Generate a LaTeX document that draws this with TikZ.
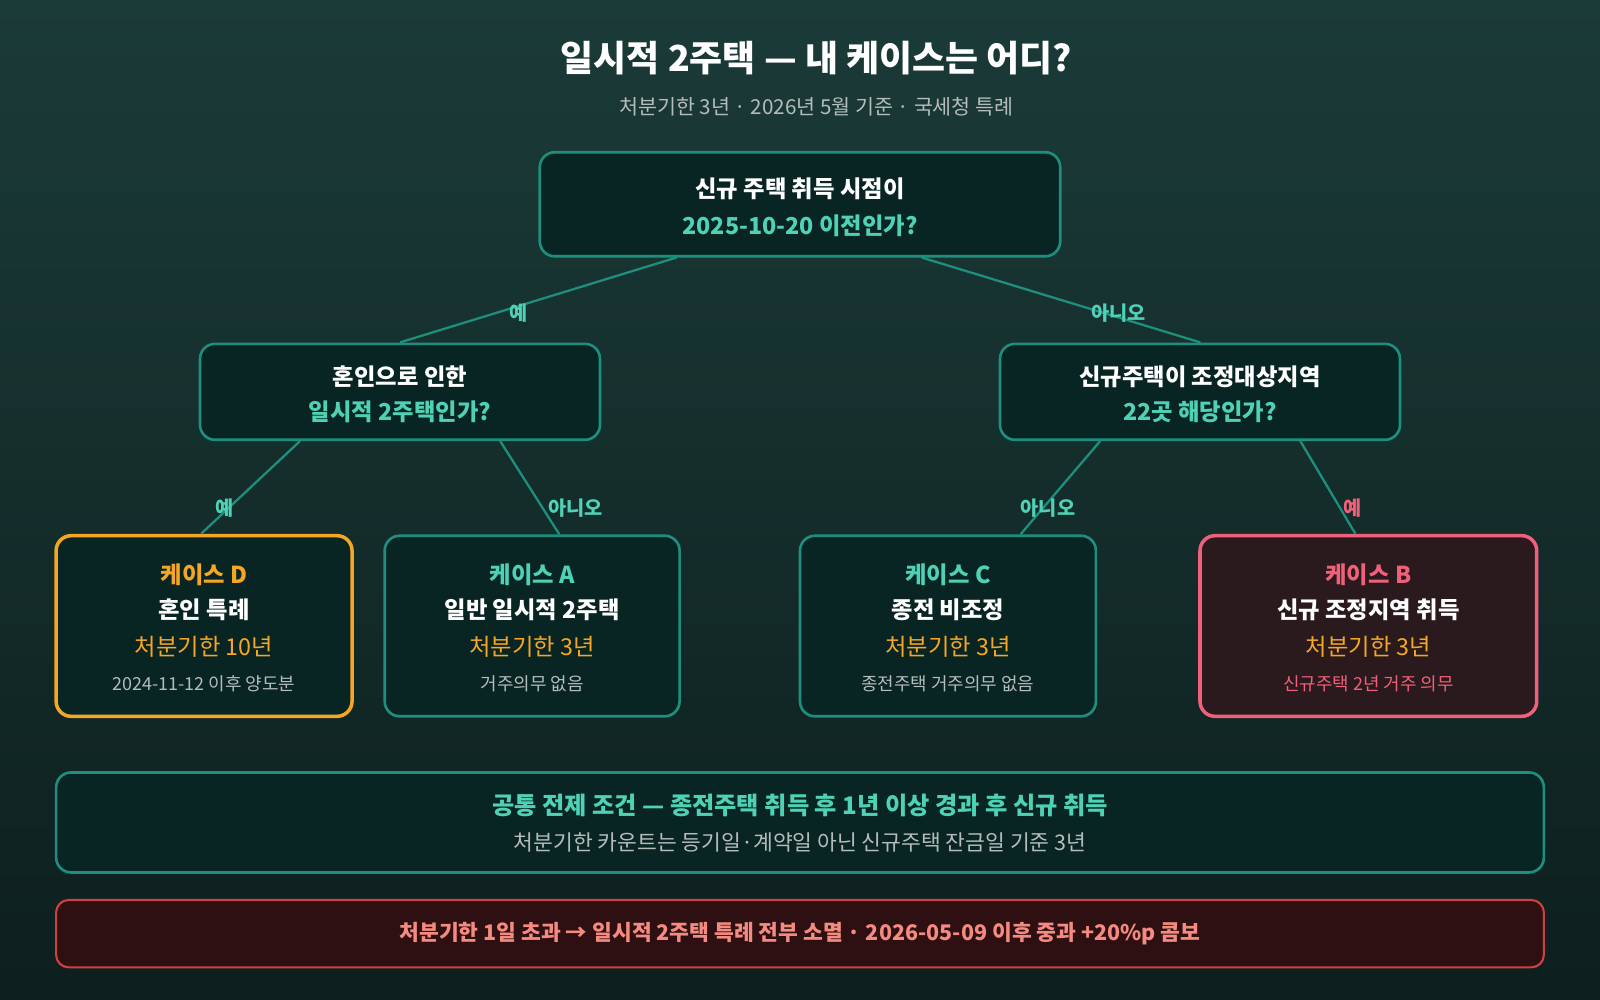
\documentclass[tikz,border=0pt]{standalone}
\usepackage{fontspec}
\setmainfont{Noto Sans CJK KR}
\usetikzlibrary{positioning,calc}
\definecolor{bgtop}{HTML}{1B3B38}
\definecolor{bgbot}{HTML}{0D1F1E}
\definecolor{teal}{HTML}{1E8F7E}
\definecolor{tealtxt}{HTML}{4FD1B5}
\definecolor{boxfill}{HTML}{082523}
\definecolor{orng}{HTML}{F5A623}
\definecolor{pink}{HTML}{F0607A}
\definecolor{pinkfill}{HTML}{2A1A1E}
\definecolor{greytxt}{HTML}{B5BDBB}
\definecolor{warnfill}{HTML}{2E1012}
\definecolor{warnline}{HTML}{D04040}
\definecolor{warntxt}{HTML}{F48A80}
\tikzset{
  box/.style={draw=teal,line width=1.5pt,rounded corners=0.3cm,fill=boxfill},
  conn/.style={draw=teal,line width=1.3pt},
  lbl/.style={font=\fontsize{11}{13}\selectfont\bfseries,text=tealtxt},
  main/.style={font=\fontsize{13}{15}\selectfont\bfseries,text=white},
  sub/.style={font=\fontsize{13}{15}\selectfont\bfseries,text=tealtxt},
  dead/.style={font=\fontsize{13}{15}\selectfont,text=orng},
  note/.style={font=\fontsize{10}{12}\selectfont,text=greytxt},
}
\begin{document}
\begin{tikzpicture}
\shade[top color=bgtop,bottom color=bgbot] (0,0) rectangle (32,20);
\useasboundingbox (0,0) rectangle (32,20);
\begin{scope}[shift={(0,20)},scale=1.0204,transform shape,shift={(0,-20)}]

% title
\node[font=\fontsize{20}{24}\selectfont\bfseries,text=white] (title) at (16,18.86) {일시적 2주택 — 내 케이스는 어디?};
\node[font=\fontsize{11.5}{14}\selectfont,text=greytxt] (subtitle) at (16,17.9) {처분기한 3년 · 2026년 5월 기준 · 국세청 특례};

% decision nodes
\node[box,minimum width=10.2cm,minimum height=2.04cm] (root) at (15.68,15.996) {};
\node[main] (root1) at (15.68,16.3) {신규 주택 취득 시점이};
\node[sub] (root2) at (15.68,15.58) {2025-10-20 이전인가?};

\node[box,minimum width=7.84cm,minimum height=1.88cm] (marr) at (7.84,12.32) {};
\node[main] (marr1) at (7.84,12.62) {혼인으로 인한};
\node[sub] (marr2) at (7.84,11.92) {일시적 2주택인가?};

\node[box,minimum width=7.84cm,minimum height=1.88cm] (adj) at (23.52,12.32) {};
\node[main] (adj1) at (23.52,12.62) {신규주택이 조정대상지역};
\node[sub] (adj2) at (23.52,11.92) {22곳 해당인가?};

% cases
\node[box,draw=orng,line width=2pt,minimum width=5.8cm,minimum height=3.54cm] (caseD) at (4,7.73) {};
\node[main,text=orng] at (4,8.74) {케이스 D};
\node[main] at (4,8.04) {혼인 특례};
\node[dead] at (4,7.32) {처분기한 10년};
\node[note] at (4,6.6) {2024-11-12 이후 양도분};

\node[box,minimum width=5.78cm,minimum height=3.54cm] (caseA) at (10.43,7.73) {};
\node[main,text=tealtxt] at (10.43,8.74) {케이스 A};
\node[main] at (10.43,8.04) {일반 일시적 2주택};
\node[dead] at (10.43,7.32) {처분기한 3년};
\node[note] at (10.43,6.6) {거주의무 없음};

\node[box,minimum width=5.8cm,minimum height=3.54cm] (caseC) at (18.58,7.73) {};
\node[main,text=tealtxt] at (18.58,8.74) {케이스 C};
\node[main] at (18.58,8.04) {종전 비조정};
\node[dead] at (18.58,7.32) {처분기한 3년};
\node[note] at (18.58,6.6) {종전주택 거주의무 없음};

\node[box,draw=pink,fill=pinkfill,line width=2pt,minimum width=6.6cm,minimum height=3.54cm] (caseB) at (26.82,7.73) {};
\node[main,text=pink] at (26.82,8.74) {케이스 B};
\node[main] at (26.82,8.04) {신규 조정지역 취득};
\node[dead] at (26.82,7.32) {처분기한 3년};
\node[note,text=pink] at (26.82,6.6) {신규주택 2년 거주 의무};

% connectors
\draw[conn] ($(root.south)+(-2.42,0)$) -- (marr.north);
\draw[conn] ($(root.south)+(2.38,0)$) -- (adj.north);
\draw[conn] ($(marr.south)+(-1.96,0)$) -- ($(caseD.north)+(-0.06,0)$);
\draw[conn] ($(marr.south)+(1.96,0)$) -- ($(caseA.north)+(0.53,0)$);
\draw[conn] ($(adj.south)+(-1.96,0)$) -- ($(caseC.north)+(1.42,0)$);
\draw[conn] ($(adj.south)+(1.96,0)$) -- ($(caseB.north)+(-0.26,0)$);
\node[lbl] (yes1) at (10.16,13.86) {예};
\node[lbl] (no1) at (21.92,13.86) {아니오};
\node[lbl] (yes2) at (4.4,10.04) {예};
\node[lbl] (no2) at (11.28,10.04) {아니오};
\node[lbl] (no3) at (20.54,10.04) {아니오};
\node[lbl,text=pink] (yes3) at (26.52,10.04) {예};

% common premise
\node[box,minimum width=29.16cm,minimum height=1.96cm] (common) at (15.68,3.88) {};
\node[sub,font=\fontsize{13.5}{15}\selectfont\bfseries] at (15.68,4.22) {공통 전제 조건 — 종전주택 취득 후 1년 이상 경과 후 신규 취득};
\node[font=\fontsize{12}{14}\selectfont,text=greytxt] at (15.68,3.48) {처분기한 카운트는 등기일·계약일 아닌 신규주택 잔금일 기준 3년};

% warning
\node[box,draw=warnline,fill=warnfill,line width=1.2pt,rounded corners=0.25cm,minimum width=29.16cm,minimum height=1.32cm] (warn) at (15.68,1.7) {};
\node[font=\fontsize{12}{14}\selectfont\bfseries,text=warntxt] at (15.68,1.7) {처분기한 1일 초과 → 일시적 2주택 특례 전부 소멸 · 2026-05-09 이후 중과 +20\%p 콤보};
\end{scope}
\end{tikzpicture}
\end{document}
